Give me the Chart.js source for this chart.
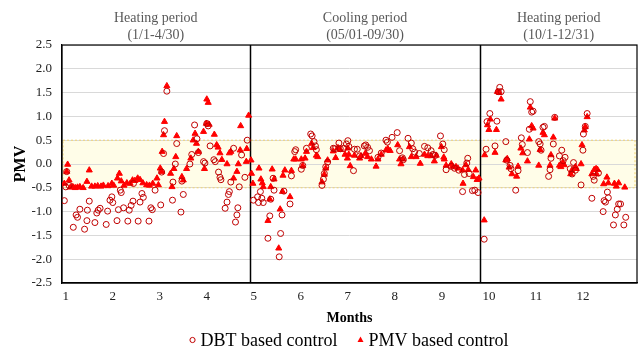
<!DOCTYPE html>
<html>
<head>
<meta charset="utf-8">
<script src="https://cdn.jsdelivr.net/npm/chart.js@4/dist/chart.umd.min.js"></script>
<style>
  html, body { margin: 0; padding: 0; background: #fff; }
</style>
</head>
<body>
<canvas id="chart" width="644" height="352"></canvas>
<script>
// x positions are in month units (1 = January), y is PMV
const dbtX = [0.97,1.00,1.02,1.07,1.16,1.22,1.25,1.30,1.40,1.45,1.46,1.50,1.62,1.66,1.69,1.73,1.86,1.89,1.94,1.98,2.00,2.09,2.12,2.16,2.18,2.23,2.32,2.35,2.39,2.43,2.44,2.54,2.58,2.62,2.65,2.77,2.81,2.84,2.90,3.02,3.04,3.08,3.10,3.15,3.27,3.28,3.33,3.36,3.45,3.47,3.50,3.64,3.68,3.74,3.79,3.82,3.93,3.96,4.00,4.03,4.07,4.15,4.18,4.25,4.28,4.30,4.39,4.43,4.46,4.48,4.51,4.57,4.61,4.64,4.66,4.69,4.74,4.81,4.86,
  4.99,5.08,5.10,5.14,5.17,5.20,5.30,5.34,5.36,5.41,5.43,5.54,5.57,5.60,5.64,5.77,5.80,5.87,5.89,6.01,6.04,6.12,6.21,6.24,6.28,6.31,6.33,6.45,6.48,6.50,6.53,6.57,6.69,6.72,6.81,6.84,6.91,6.97,7.00,7.02,7.12,7.14,7.20,7.25,7.35,7.38,7.42,7.46,7.64,7.71,7.81,7.84,7.94,8.05,8.10,8.16,8.18,8.28,8.35,8.38,8.42,8.52,8.63,8.70,8.77,8.81,8.86,8.97,9.02,9.05,9.09,9.20,9.27,9.36,9.44,9.48,9.53,9.55,9.58,9.65,9.70,9.77,
  9.90,9.94,9.96,10.02,10.13,10.17,10.20,10.23,10.26,10.36,10.38,10.45,10.47,10.57,10.62,10.69,10.71,10.82,10.86,10.88,10.91,10.94,11.06,11.09,11.11,11.15,11.18,11.27,11.30,11.32,11.37,11.40,11.50,11.55,11.58,11.62,11.73,11.77,11.80,11.84,11.96,12.00,12.01,12.05,12.09,12.19,12.22,12.24,12.33,12.43,12.45,12.48,12.52,12.54,12.65,12.69,12.73,12.76,12.80,12.87,12.91];
const dbtY = [-0.77,-0.48,-0.16,-0.45,-1.33,-1.07,-1.12,-0.95,-1.37,-1.19,-0.97,-0.78,-1.23,-1.03,-0.97,-0.93,-1.27,-0.99,-0.76,-0.69,-0.81,-1.19,-0.96,-0.55,-0.60,-0.92,-1.20,-0.97,-0.87,-0.78,-0.41,-1.20,-0.80,-0.62,-0.70,-1.20,-0.92,-0.96,-0.55,-0.86,-0.17,0.22,0.70,1.53,-0.76,-0.38,0.00,0.43,-1.01,-0.36,-0.64,0.00,0.20,0.82,0.53,0.24,0.05,0.02,0.85,0.80,0.38,0.09,0.05,-0.17,-0.28,-0.33,-0.93,-0.80,-0.64,-0.58,-0.38,0.33,-1.22,-1.07,-0.92,-0.48,0.19,-0.28,0.50,
  -0.76,-0.69,-0.81,-0.58,-0.72,-0.81,-1.56,-1.09,-0.74,-0.30,-0.55,-1.95,-1.46,-1.07,-0.57,-0.84,-0.25,0.26,0.30,-0.11,-0.03,0.33,0.63,0.59,0.47,0.38,0.30,-0.45,-0.32,-0.20,-0.06,0.04,0.33,0.32,0.44,0.32,0.33,0.42,0.49,0.37,-0.14,0.31,0.31,0.17,0.38,0.40,0.35,0.28,0.14,0.23,0.50,0.46,0.56,0.66,0.28,0.13,0.09,0.54,0.44,0.32,0.25,0.22,0.37,0.34,0.28,0.20,0.18,0.59,0.42,0.30,-0.12,-0.05,-0.09,-0.13,-0.58,-0.22,0.02,0.12,-0.20,-0.56,-0.55,-0.60,
  -1.58,0.31,0.89,1.06,0.38,0.90,1.52,1.61,1.52,0.47,0.08,-0.03,-0.10,-0.55,-0.14,0.55,0.41,0.24,0.73,1.31,1.09,1.11,0.47,0.42,0.29,0.77,0.79,-0.26,-0.12,0.12,0.42,0.98,0.17,0.29,0.07,0.14,-0.10,-0.21,0.03,-0.13,-0.44,0.29,0.63,0.79,1.06,-0.72,-0.26,-0.34,-0.19,-1.00,-0.77,-0.80,-0.59,-0.71,-1.28,-1.07,-0.95,-0.84,-0.84,-1.28,-1.12];

const pmvX = [0.97,1.02,1.04,1.07,1.10,1.15,1.20,1.25,1.30,1.37,1.45,1.50,1.55,1.62,1.68,1.75,1.80,1.90,1.98,2.02,2.10,2.14,2.18,2.24,2.30,2.37,2.42,2.47,2.53,2.58,2.64,2.72,2.78,2.85,2.94,2.97,3.01,3.04,3.05,3.08,3.10,3.15,3.23,3.26,3.30,3.34,3.36,3.47,3.50,3.57,3.66,3.71,3.75,3.78,3.82,3.93,3.95,3.99,4.00,4.03,4.05,4.16,4.21,4.24,4.28,4.32,4.43,4.48,4.51,4.57,4.64,4.67,4.71,4.72,4.84,4.85,4.89,
  4.94,4.95,4.98,5.11,5.15,5.18,5.20,5.30,5.34,5.36,5.39,5.43,5.53,5.56,5.61,5.62,5.66,5.77,5.80,5.85,5.89,6.01,6.04,6.09,6.12,6.23,6.26,6.33,6.36,6.45,6.50,6.53,6.57,6.69,6.74,6.79,6.84,6.94,6.99,7.00,7.02,7.05,7.14,7.25,7.28,7.37,7.42,7.50,7.60,7.64,7.71,7.81,7.85,7.90,8.06,8.10,8.13,8.17,8.31,8.35,8.45,8.54,8.63,8.70,8.77,8.84,8.88,8.99,9.04,9.05,9.09,9.20,9.23,9.30,9.34,9.44,9.45,9.51,9.56,9.67,9.72,9.75,9.79,
  9.90,9.91,9.97,10.00,10.03,10.13,10.16,10.18,10.22,10.26,10.36,10.39,10.43,10.49,10.59,10.62,10.68,10.72,10.82,10.86,10.88,10.91,10.94,11.06,11.09,11.15,11.18,11.30,11.32,11.37,11.40,11.50,11.53,11.57,11.60,11.74,11.76,11.84,11.86,11.96,11.98,12.03,12.05,12.09,12.19,12.24,12.28,12.29,12.31,12.44,12.51,12.54,12.67,12.71,12.76,12.89];
const pmvY = [-0.41,-0.16,-0.01,-0.34,-0.49,-0.48,-0.50,-0.49,-0.48,-0.50,-0.37,-0.13,-0.47,-0.47,-0.46,-0.47,-0.45,-0.46,-0.41,-0.45,-0.30,-0.20,-0.36,-0.45,-0.40,-0.41,-0.34,-0.35,-0.30,-0.33,-0.40,-0.44,-0.45,-0.41,-0.30,-0.44,-0.09,-0.16,0.26,0.61,0.89,1.64,-0.20,-0.48,-0.10,0.15,0.59,-0.27,-0.34,-0.10,0.12,0.50,0.64,0.43,0.26,0.68,-0.10,0.85,1.36,1.29,0.83,0.62,0.40,0.35,0.23,0.09,0.00,0.23,0.26,-0.30,-0.16,0.00,0.29,0.80,0.05,0.32,1.02,
  0.08,-0.20,-0.41,-0.09,-0.32,-0.40,-0.48,-1.19,-0.74,-0.48,-0.11,-0.32,-1.77,-0.95,-0.58,-0.24,-0.13,-0.69,-0.14,0.10,0.10,0.10,-0.04,0.12,0.26,0.43,0.34,0.18,0.15,-0.38,-0.22,-0.09,0.08,0.27,0.13,0.34,0.30,0.20,0.12,0.33,0.20,-0.04,0.18,0.12,0.17,0.22,0.15,0.10,-0.05,0.10,0.20,0.29,0.32,0.28,0.40,0.10,0.00,0.10,0.36,0.15,0.15,0.01,0.20,0.17,0.17,0.06,0.18,0.36,0.14,0.10,-0.03,0.00,-0.05,-0.06,-0.09,-0.13,-0.41,-0.02,-0.12,-0.27,-0.13,-0.33,-0.30,
  -1.18,0.19,0.82,0.72,0.94,0.24,0.72,1.52,1.50,1.36,0.08,0.11,-0.07,-0.21,-0.26,-0.05,0.33,0.23,0.06,0.52,1.19,0.80,0.75,-0.03,0.30,0.66,0.61,-0.03,0.19,0.56,0.96,-0.03,-0.06,0.03,-0.02,-0.21,-0.14,-0.06,-0.10,0.00,0.40,0.71,0.78,0.99,-0.21,-0.12,-0.10,-0.21,-0.12,-0.42,-0.28,-0.40,-0.41,-0.47,-0.40,-0.49];

const monthTicks = [1,2,3,4,5,6,7,8,9,10,11,12];
const xRange = [0.92, 13.15];
const periodBounds = [0.92, 4.91, 9.82, 13.15];
const periodNames = ['Heating period', 'Cooling period', 'Heating period'];
const periodDates = ['(1/1-4/30)', '(05/01-09/30)', '(10/1-12/31)'];
const comfortBand = [-0.5, 0.5];

Chart.defaults.font.family = '"Liberation Serif", "Times New Roman", serif';

function toPoints(xs, ys) {
    return xs.map((x, i) => ({ x: x, y: ys[i] }));
}

const periodPlugin = {
    id: 'periods',
    beforeDraw(chart) {
        const { ctx, chartArea: a, scales: { y } } = chart;
        const top = y.getPixelForValue(comfortBand[1]);
        const bot = y.getPixelForValue(comfortBand[0]);
        ctx.save();
        ctx.fillStyle = '#FFFDE8';
        ctx.fillRect(a.left, top, a.right - a.left, bot - top);
        ctx.restore();
    },
    beforeDatasetsDraw(chart) {
        const { ctx, chartArea: a, scales: { x, y } } = chart;
        const top = y.getPixelForValue(comfortBand[1]);
        const bot = y.getPixelForValue(comfortBand[0]);
        ctx.save();
        // comfort band outline
        ctx.strokeStyle = '#F2D46E';
        ctx.lineWidth = 1;
        ctx.setLineDash([2, 2]);
        ctx.strokeRect(a.left + 1, top, a.right - a.left - 3, bot - top);
        ctx.setLineDash([]);
        // frame
        ctx.strokeStyle = '#000';
        ctx.lineWidth = 1.2;
        ctx.strokeRect(a.left, a.top, a.right - a.left, a.bottom - a.top);
        // period dividers
        ctx.lineWidth = 1.5;
        [periodBounds[1], periodBounds[2]].forEach((b) => {
            const px = Math.round(x.getPixelForValue(b)) + 0.5;
            ctx.beginPath();
            ctx.moveTo(px, a.top);
            ctx.lineTo(px, a.bottom);
            ctx.stroke();
        });
        ctx.restore();
    },
    afterDraw(chart) {
        const { ctx, chartArea: a, scales: { x } } = chart;
        ctx.save();
        ctx.fillStyle = '#595959';
        ctx.font = '14px "Liberation Serif", serif';
        ctx.textAlign = 'center';
        ctx.textBaseline = 'middle';
        for (let i = 0; i < periodNames.length; i++) {
            const cx = (x.getPixelForValue(periodBounds[i]) + x.getPixelForValue(periodBounds[i + 1])) / 2;
            ctx.fillText(periodNames[i], cx, 18);
            ctx.fillText(periodDates[i], cx, 35);
        }

        // legend, centred under the plot area
        const sets = chart.data.datasets;
        ctx.font = '18px "Liberation Serif", serif';
        ctx.textAlign = 'left';
        ctx.fillStyle = '#000';
        const w0 = ctx.measureText(sets[0].label).width;
        const w1 = ctx.measureText(sets[1].label).width;
        const total = 8 + w0 + 23 + 8 + w1;
        let lx = (a.left + a.right) / 2 - total / 2 + 1;
        const ly = 340;
        ctx.strokeStyle = sets[0].borderColor;
        ctx.lineWidth = 1;
        ctx.beginPath();
        ctx.arc(lx, ly, 2.6, 0, Math.PI * 2);
        ctx.stroke();
        ctx.fillText(sets[0].label, lx + 8, ly + 1);
        lx += 8 + w0 + 23;
        ctx.fillStyle = sets[1].backgroundColor;
        ctx.beginPath();
        ctx.moveTo(lx, ly - 3.5);
        ctx.lineTo(lx + 3, ly + 2);
        ctx.lineTo(lx - 3, ly + 2);
        ctx.closePath();
        ctx.fill();
        ctx.fillStyle = '#000';
        ctx.fillText(sets[1].label, lx + 8, ly + 1);
        ctx.restore();
    }
};

const ctx = document.getElementById('chart').getContext('2d');
const chart = new Chart(ctx, {
    type: 'scatter',
    data: {
        datasets: [
            {
                label: 'DBT based control',
                data: toPoints(dbtX, dbtY),
                pointStyle: 'circle',
                radius: 3,
                borderColor: '#C00000',
                backgroundColor: 'rgba(0,0,0,0)',
                borderWidth: 1,
            },
            {
                label: 'PMV based control',
                data: toPoints(pmvX, pmvY),
                pointStyle: 'triangle',
                radius: 3.5,
                borderColor: '#FF0000',
                backgroundColor: '#FF0000',
                borderWidth: 1,
            },
        ],
    },
    options: {
        responsive: false,
        animation: false,
        layout: { padding: { top: 45, right: 7, bottom: 25, left: 0 } },
        plugins: {
            tooltip: { enabled: false },
            legend: { display: false },
        },
        scales: {
            x: {
                type: 'linear',
                min: xRange[0],
                max: xRange[1],
                afterBuildTicks: (scale) => {
                    scale.ticks = monthTicks.map((v) => ({ value: v }));
                },
                afterFit: (scale) => { scale.height = 44; },
                grid: { display: false, drawTicks: false },
                border: { display: true, color: '#000', width: 1.2 },
                ticks: { color: '#222', font: { size: 13 }, padding: 6, maxRotation: 0 },
                title: { display: true, text: 'Months', color: '#000', font: { size: 14, weight: 'bold' }, padding: 0 },
            },
            y: {
                min: -2.5,
                max: 2.5,
                afterFit: (scale) => { scale.width = 62; },
                grid: { color: '#D9D9D9', drawTicks: false },
                border: { display: true, color: '#000', width: 1.2 },
                ticks: {
                    stepSize: 0.5,
                    color: '#222',
                    font: { size: 13 },
                    padding: 10,
                    callback: (v) => v.toFixed(1),
                },
                title: { display: true, text: 'PMV', color: '#000', font: { size: 16, weight: 'bold' }, padding: { top: 11, bottom: 0 } },
            },
        },
    },
    plugins: [periodPlugin],
});
</script>
</body>
</html>
